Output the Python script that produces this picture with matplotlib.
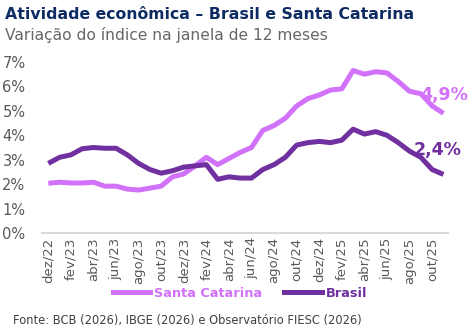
import matplotlib
matplotlib.use("Agg")
import matplotlib.pyplot as plt
from matplotlib.lines import Line2D

months = ["dez/22","jan/23","fev/23","mar/23","abr/23","mai/23","jun/23","jul/23","ago/23","set/23",
          "out/23","nov/23","dez/23","jan/24","fev/24","mar/24","abr/24","mai/24","jun/24","jul/24",
          "ago/24","set/24","out/24","nov/24","dez/24","jan/25","fev/25","mar/25","abr/25","mai/25",
          "jun/25","jul/25","ago/25","set/25","out/25","nov/25"]
santa_catarina = [2.04,2.08,2.05,2.05,2.08,1.92,1.92,1.80,1.76,1.84,
                  1.92,2.30,2.42,2.75,3.10,2.80,3.05,3.30,3.50,4.20,
                  4.40,4.70,5.20,5.50,5.65,5.85,5.90,6.65,6.50,6.60,
                  6.55,6.20,5.80,5.70,5.20,4.90]
brasil = [2.85,3.10,3.20,3.45,3.50,3.47,3.47,3.20,2.85,2.60,
          2.45,2.55,2.70,2.75,2.80,2.20,2.30,2.25,2.25,2.60,
          2.80,3.10,3.60,3.70,3.75,3.70,3.80,4.25,4.05,4.15,
          4.00,3.70,3.35,3.10,2.60,2.40]
yticks = [0,1,2,3,4,5,6,7]

c_sc = "#D271F9"
c_br = "#7030A0"
gray = "#595959"

fig = plt.figure(figsize=(4.73, 3.33), dpi=100)
ax = fig.add_axes([0.089, 0.30, 0.858, 0.514])
x = list(range(len(months)))
ax.plot(x, santa_catarina, color=c_sc, lw=3.6, solid_capstyle="butt", solid_joinstyle="round", clip_on=False)
ax.plot(x, brasil, color=c_br, lw=3.6, solid_capstyle="butt", solid_joinstyle="round", clip_on=False)
ax.set_xlim(-0.55, 35.4)
ax.set_ylim(0, 7)
ax.set_yticks(yticks)
ax.set_yticklabels([f"{v}%" for v in yticks], fontsize=10.5, color=gray)
ax.set_xticks(x[::2])
ax.set_xticklabels(months[::2], rotation=90, fontsize=9.5, color=gray)
for s in ["top", "right", "left"]:
    ax.spines[s].set_visible(False)
ax.spines["bottom"].set_color("#d9d9d9")
ax.spines["bottom"].set_linewidth(1.5)
ax.tick_params(axis="y", length=0, pad=12)
ax.tick_params(axis="x", length=0, pad=3)

ax.text(37.2, 5.65, "4,9%", color=c_sc, fontsize=12.5,
        fontweight="bold", ha="right", va="center", clip_on=False, zorder=5)
ax.text(36.6, 3.41, "2,4%", color=c_br, fontsize=12.5,
        fontweight="bold", ha="right", va="center", clip_on=False, zorder=5)

fig.text(0.011, 0.955, "Atividade econômica – Brasil e Santa Catarina", fontsize=11.3,
         fontweight="bold", color="#0E2B63", ha="left", va="center")
fig.text(0.011, 0.895, "Variação do índice na janela de 12 meses", fontsize=11.2,
         color="#666666", ha="left", va="center")

handles = [Line2D([0], [0], color=c_sc, lw=3.6), Line2D([0], [0], color=c_br, lw=3.6)]
leg = fig.legend(handles, ["Santa Catarina", "Brasil"], loc="center", bbox_to_anchor=(0.507, 0.12),
                 ncol=2, frameon=False, handlelength=2.9, handletextpad=0.3, columnspacing=1.7,
                 prop={"size": 9.3, "weight": "bold"})
for t, c in zip(leg.get_texts(), [c_sc, c_br]):
    t.set_color(c)

fig.text(0.027, 0.038, "Fonte: BCB (2026), IBGE (2026) e Observatório FIESC (2026)", fontsize=8.3,
         color="#404040", ha="left", va="center")

fig.savefig("out.png", dpi=100)
